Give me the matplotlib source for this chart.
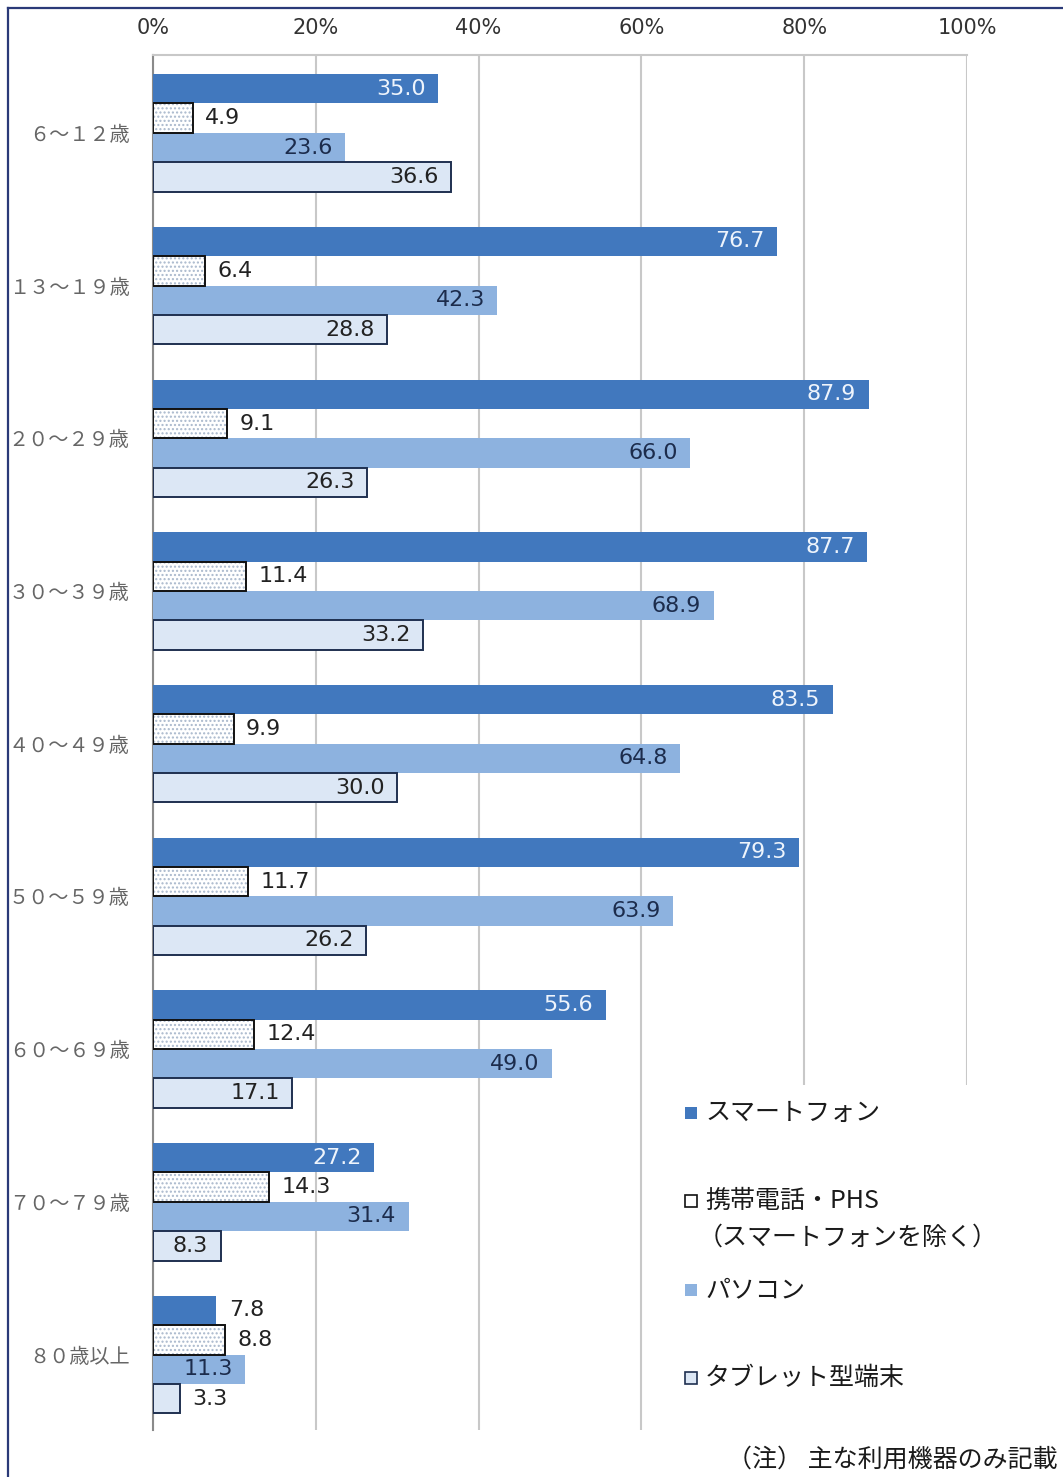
import matplotlib
matplotlib.use("Agg")
import matplotlib.pyplot as plt
from matplotlib.patches import Rectangle
from matplotlib.lines import Line2D
import numpy as np

# age groups (top to bottom)
ages = ["６〜１２歳", "１３〜１９歳", "２０〜２９歳", "３０〜３９歳", "４０〜４９歳",
        "５０〜５９歳", "６０〜６９歳", "７０〜７９歳", "８０歳以上"]

smartphone = [35.0, 76.7, 87.9, 87.7, 83.5, 79.3, 55.6, 27.2, 7.8]
mobile_phs = [4.9, 6.4, 9.1, 11.4, 9.9, 11.7, 12.4, 14.3, 8.8]
pc = [23.6, 42.3, 66.0, 68.9, 64.8, 63.9, 49.0, 31.4, 11.3]
tablet = [36.6, 28.8, 26.3, 33.2, 30.0, 26.2, 17.1, 8.3, 3.3]

legend_labels = ["スマートフォン", "携帯電話・PHS", "パソコン", "タブレット型端末"]
legend_sub = "（スマートフォンを除く）"
note = "（注） 主な利用機器のみ記載"
xticks = [0, 20, 40, 60, 80, 100]

JP = ["Noto Sans CJK JP", "DejaVu Sans"]

C_SP = "#4178be"
C_PC = "#8db2df"
C_TAB = "#dce7f5"
C_EDGE = "#1f3050"

GROUP_PITCH = 5.2
centers = np.arange(len(ages)) * GROUP_PITCH

fig = plt.figure(figsize=(10.63, 14.77), dpi=100)
ax = fig.add_axes([153 / 1063, 1 - 1430 / 1477, (967 - 153) / 1063, (1430 - 55) / 1477])

h = 1.0
y_sp = centers - 1.5
y_mb = centers - 0.5
y_pc = centers + 0.5
y_tb = centers + 1.5

ax.barh(y_sp, smartphone, height=h, color=C_SP, linewidth=0, zorder=3)
# dotted fill, then outline
ax.barh(y_mb, mobile_phs, height=h, color="white", edgecolor="#a9b8cc",
        hatch="....", linewidth=0, zorder=3)
ax.barh(y_mb, mobile_phs, height=h, fill=False, edgecolor="#111111",
        linewidth=1.4, zorder=4)
ax.barh(y_pc, pc, height=h, color=C_PC, linewidth=0, zorder=3)
ax.barh(y_tb, tablet, height=h, color=C_TAB, edgecolor=C_EDGE, linewidth=1.4, zorder=3)

def label(ys, vals, inside_color, always_out=False):
    for y, v in zip(ys, vals):
        if always_out or v < 8:
            ax.annotate(f"{v:.1f}", (v, y), xytext=(9, 0), textcoords="offset points",
                        ha="left", va="center", fontsize=16, color="#222222", zorder=5)
        else:
            ax.annotate(f"{v:.1f}", (v, y), xytext=(-9, 0), textcoords="offset points",
                        ha="right", va="center", fontsize=16, color=inside_color, zorder=5)

label(y_sp, smartphone, "#eef4fc")
label(y_mb, mobile_phs, "#222222", always_out=True)
label(y_pc, pc, "#1c2c4c")
label(y_tb, tablet, "#222222")

ax.set_xlim(0, 100)
ax.set_ylim(8 * GROUP_PITCH + 2.57, -2.65)
ax.xaxis.tick_top()
ax.set_xticks(xticks)
ax.set_xticklabels([f"{t}%" for t in xticks], fontsize=15, color="#333333")
ax.tick_params(axis="x", length=0, pad=12)
ax.set_yticks(centers)
ax.set_yticklabels(ages, family=JP, fontsize=14.5, color="#666666")
ax.tick_params(axis="y", length=0, pad=17)
ax.grid(axis="x", color="#c8c8c8", linewidth=1.5, zorder=0)
ax.set_axisbelow(True)
for s in ["right", "bottom"]:
    ax.spines[s].set_visible(False)
ax.spines["top"].set_color("#c8c8c8")
ax.spines["top"].set_linewidth(1.5)
ax.spines["left"].set_color("#8a8a8a")
ax.spines["left"].set_linewidth(1.5)

# white legend box hiding the grid on the lower right
fig.patches.append(Rectangle((665 / 1063, 0), 1, (1477 - 1085) / 1477,
                             transform=fig.transFigure, facecolor="white",
                             edgecolor="none", zorder=2))

W, H = 1063, 1477
def fx(px):
    return px / W
def fy(py):
    return 1 - py / H

marker_styles = [
    dict(facecolor=C_SP, edgecolor="none"),
    dict(facecolor="white", edgecolor="#111111", linewidth=1.2),
    dict(facecolor=C_PC, edgecolor="none"),
    dict(facecolor=C_TAB, edgecolor=C_EDGE, linewidth=1.2),
]
legend_y = [1113, 1201, 1290, 1378]
for lab, ly, st in zip(legend_labels, legend_y, marker_styles):
    fig.patches.append(Rectangle((fx(685), fy(ly + 6)), 12 / W, 12 / H,
                                 transform=fig.transFigure, zorder=3, **st))
    fig.text(fx(705), fy(ly), lab, family=JP, fontsize=18, color="#1a1a1a",
             ha="left", va="center", zorder=4)
fig.text(fx(698), fy(1238), legend_sub, family=JP, fontsize=18, color="#1a1a1a",
         ha="left", va="center", zorder=4)
fig.text(fx(1058), fy(1460), note, family=JP, fontsize=18, color="#1a1a1a",
         ha="right", va="center", zorder=4)

# outer navy frame (top and left)
fig.add_artist(Line2D([fx(8), 1], [fy(8), fy(8)], transform=fig.transFigure,
                      color="#2b3a78", linewidth=1.6, zorder=5))
fig.add_artist(Line2D([fx(8), fx(8)], [0, fy(8)], transform=fig.transFigure,
                      color="#2b3a78", linewidth=1.6, zorder=5))

fig.savefig("out.png", dpi=100, facecolor="white")
